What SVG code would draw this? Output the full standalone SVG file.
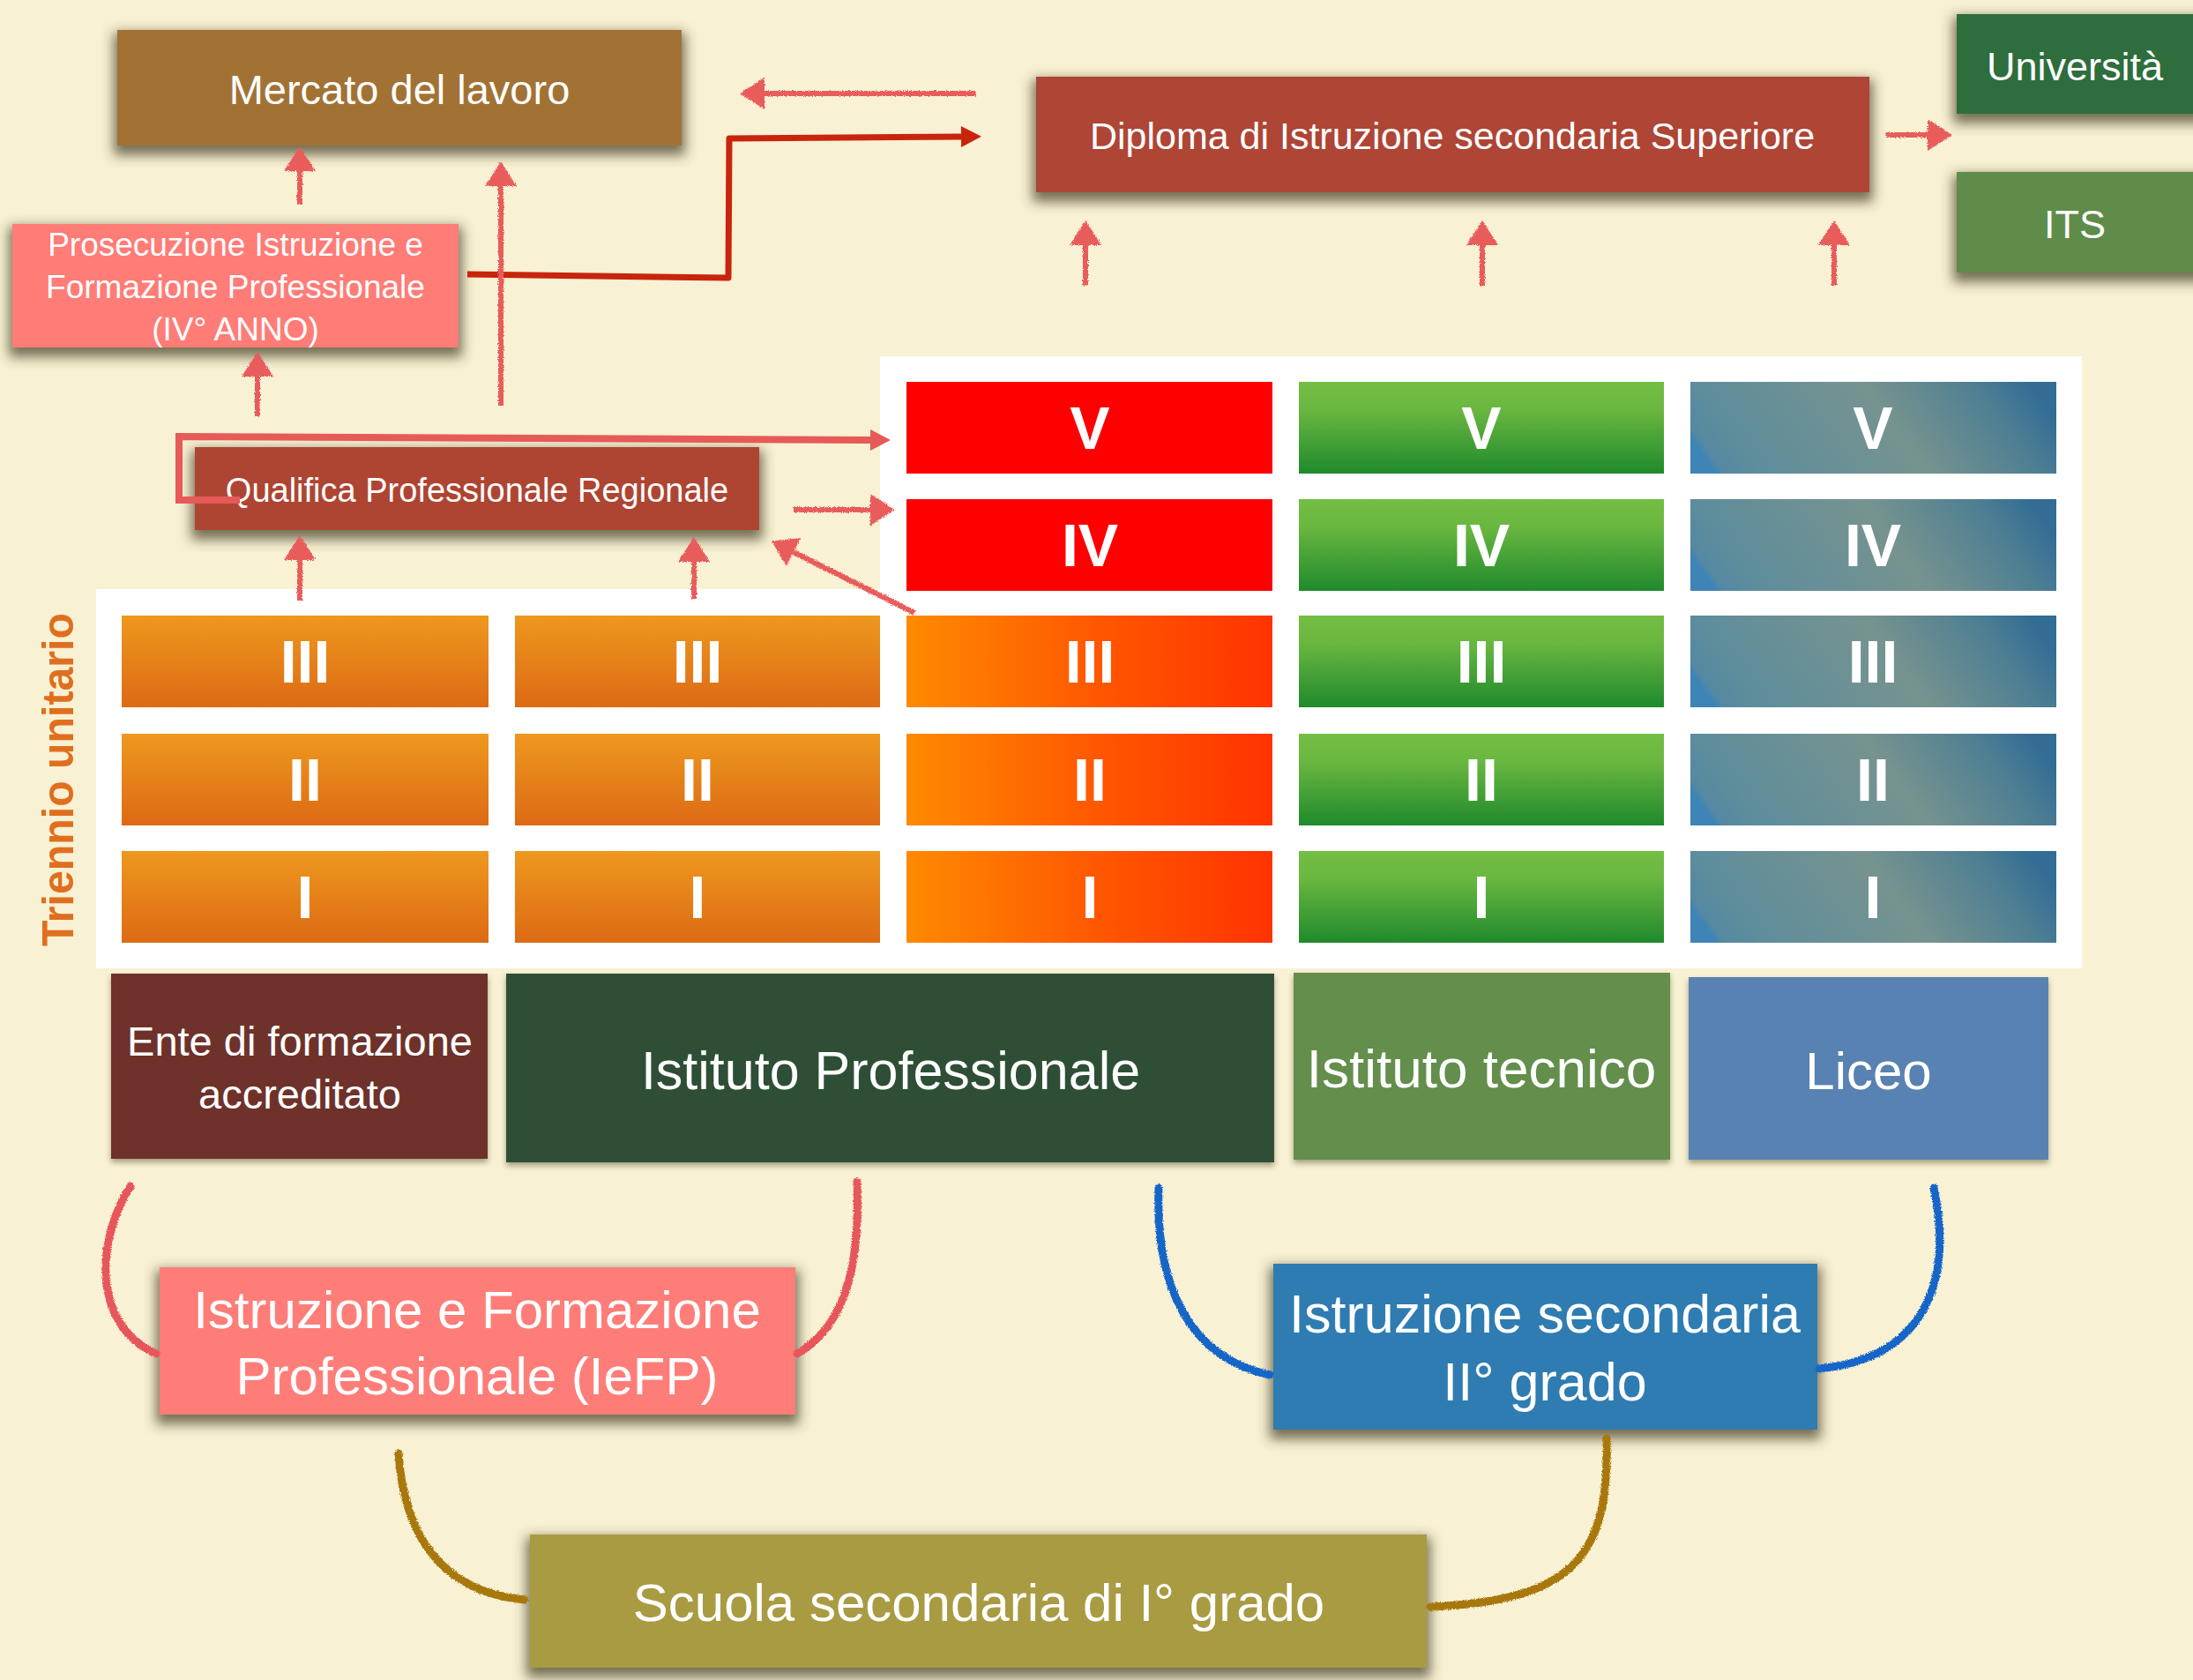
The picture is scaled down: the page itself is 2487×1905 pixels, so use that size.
<svg xmlns="http://www.w3.org/2000/svg" width="2487" height="1905" viewBox="0 0 2487 1905">
<defs>
<style>
.lbl{font-family:"Liberation Sans",Arial,sans-serif;fill:#ffffff;text-anchor:middle}
.num{font-family:"Liberation Sans",Arial,sans-serif;font-weight:bold;fill:#ffffff;text-anchor:middle;font-size:68px}
.pk{stroke:#E95B5B;fill:none;stroke-width:6}
.cur{fill:none;stroke-width:9;stroke-linecap:round}
</style>
<linearGradient id="gOr" x1="0" y1="0" x2="0" y2="1"><stop offset="0" stop-color="#EE981E"/><stop offset="1" stop-color="#DD6A14"/></linearGradient>
<linearGradient id="gRo" x1="0" y1="0" x2="1" y2="0"><stop offset="0" stop-color="#FF8A00"/><stop offset="0.55" stop-color="#FF5500"/><stop offset="1" stop-color="#FF3300"/></linearGradient>
<linearGradient id="gGr" x1="0" y1="0" x2="0" y2="1"><stop offset="0" stop-color="#73BE43"/><stop offset="0.3" stop-color="#6AB740"/><stop offset="1" stop-color="#1F8A2C"/></linearGradient>
<linearGradient id="gBl" x1="0" y1="0.6" x2="1" y2="0.42"><stop offset="0" stop-color="#3F84B6"/><stop offset="0.02" stop-color="#5589A2"/><stop offset="0.12" stop-color="#5E8D9C"/><stop offset="0.56" stop-color="#76938F"/><stop offset="0.85" stop-color="#4F7F93"/><stop offset="1" stop-color="#336D95"/></linearGradient>
<filter id="sh" x="-10%" y="-30%" width="120%" height="170%">
<feMorphology in="SourceAlpha" operator="dilate" radius="4" result="d"/>
<feGaussianBlur in="d" stdDeviation="7"/>
<feOffset dy="7" result="b"/>
<feFlood flood-color="#3E3820" flood-opacity="0.7"/>
<feComposite in2="b" operator="in"/>
<feMerge><feMergeNode/><feMergeNode in="SourceGraphic"/></feMerge>
</filter>
<filter id="shs" x="-5%" y="-10%" width="110%" height="125%">
<feGaussianBlur in="SourceAlpha" stdDeviation="3"/>
<feOffset dy="4" result="b"/>
<feFlood flood-color="#3E3820" flood-opacity="0.45"/>
<feComposite in2="b" operator="in"/>
<feMerge><feMergeNode/><feMergeNode in="SourceGraphic"/></feMerge>
</filter>
<filter id="rough" filterUnits="userSpaceOnUse" x="0" y="0" width="2487" height="1905">
<feTurbulence type="fractalNoise" baseFrequency="0.9" numOctaves="2" seed="4" result="n"/>
<feDisplacementMap in="SourceGraphic" in2="n" scale="4" xChannelSelector="R" yChannelSelector="G"/>
</filter>
<marker id="hp" markerUnits="userSpaceOnUse" viewBox="0 -20 30 40" markerWidth="30" markerHeight="40" refX="0" refY="0" orient="auto" overflow="visible"><path d="M0,-18 L28,0 L0,18 z" fill="#E95B5B"/></marker>
<marker id="hr" markerUnits="userSpaceOnUse" viewBox="0 -13 25 26" markerWidth="25" markerHeight="26" refX="0" refY="0" orient="auto" overflow="visible"><path d="M0,-12 L23,0 L0,12 z" fill="#C8250C"/></marker>
<marker id="hs" markerUnits="userSpaceOnUse" viewBox="0 -13 25 26" markerWidth="25" markerHeight="26" refX="0" refY="0" orient="auto" overflow="visible"><path d="M0,-12 L23,0 L0,12 z" fill="#E65A58"/></marker>
</defs>

<rect x="0" y="0" width="2487" height="1905" fill="#F8F1D3"/>

<!-- white panel behind grid -->
<rect x="998" y="404" width="1363" height="265" fill="#FFFFFF"/>
<rect x="109" y="668" width="2252" height="430" fill="#FFFFFF"/>

<g id="triennio">
<text transform="translate(83,884) rotate(-90)" font-family="Liberation Sans, Arial, sans-serif" font-weight="bold" font-size="50" fill="#DF6F1F" text-anchor="middle" textLength="378" lengthAdjust="spacingAndGlyphs">Triennio unitario</text>
</g>

<!-- grid cells -->
<g id="c1-III"><rect x="138" y="698" width="416" height="104" fill="url(#gOr)"/><text class="num" x="346" y="774">III</text></g>
<g id="c1-II"><rect x="138" y="832" width="416" height="104" fill="url(#gOr)"/><text class="num" x="346" y="908">II</text></g>
<g id="c1-I"><rect x="138" y="965" width="416" height="104" fill="url(#gOr)"/><text class="num" x="346" y="1041">I</text></g>
<g id="c2-III"><rect x="584" y="698" width="414" height="104" fill="url(#gOr)"/><text class="num" x="791" y="774">III</text></g>
<g id="c2-II"><rect x="584" y="832" width="414" height="104" fill="url(#gOr)"/><text class="num" x="791" y="908">II</text></g>
<g id="c2-I"><rect x="584" y="965" width="414" height="104" fill="url(#gOr)"/><text class="num" x="791" y="1041">I</text></g>
<g id="c3-V"><rect x="1028" y="433" width="415" height="104" fill="#FF0000"/><text class="num" x="1236" y="509">V</text></g>
<g id="c3-IV"><rect x="1028" y="566" width="415" height="104" fill="#FF0000"/><text class="num" x="1236" y="642">IV</text></g>
<g id="c3-III"><rect x="1028" y="698" width="415" height="104" fill="url(#gRo)"/><text class="num" x="1236" y="774">III</text></g>
<g id="c3-II"><rect x="1028" y="832" width="415" height="104" fill="url(#gRo)"/><text class="num" x="1236" y="908">II</text></g>
<g id="c3-I"><rect x="1028" y="965" width="415" height="104" fill="url(#gRo)"/><text class="num" x="1236" y="1041">I</text></g>
<g id="c4-V"><rect x="1473" y="433" width="414" height="104" fill="url(#gGr)"/><text class="num" x="1680" y="509">V</text></g>
<g id="c4-IV"><rect x="1473" y="566" width="414" height="104" fill="url(#gGr)"/><text class="num" x="1680" y="642">IV</text></g>
<g id="c4-III"><rect x="1473" y="698" width="414" height="104" fill="url(#gGr)"/><text class="num" x="1680" y="774">III</text></g>
<g id="c4-II"><rect x="1473" y="832" width="414" height="104" fill="url(#gGr)"/><text class="num" x="1680" y="908">II</text></g>
<g id="c4-I"><rect x="1473" y="965" width="414" height="104" fill="url(#gGr)"/><text class="num" x="1680" y="1041">I</text></g>
<g id="c5-V"><rect x="1917" y="433" width="415" height="104" fill="url(#gBl)"/><text class="num" x="2124" y="509">V</text></g>
<g id="c5-IV"><rect x="1917" y="566" width="415" height="104" fill="url(#gBl)"/><text class="num" x="2124" y="642">IV</text></g>
<g id="c5-III"><rect x="1917" y="698" width="415" height="104" fill="url(#gBl)"/><text class="num" x="2124" y="774">III</text></g>
<g id="c5-II"><rect x="1917" y="832" width="415" height="104" fill="url(#gBl)"/><text class="num" x="2124" y="908">II</text></g>
<g id="c5-I"><rect x="1917" y="965" width="415" height="104" fill="url(#gBl)"/><text class="num" x="2124" y="1041">I</text></g>

<!-- top nodes -->
<g id="mercato"><rect x="133" y="34" width="640" height="131" fill="#A27235" filter="url(#sh)"/><text class="lbl" x="453" y="118" font-size="47">Mercato del lavoro</text></g>
<g id="prosecuzione"><rect x="14" y="254" width="506" height="140" fill="#FF7C77" filter="url(#sh)"/><text class="lbl" x="267" y="290" font-size="37">Prosecuzione Istruzione e</text><text class="lbl" x="267" y="338" font-size="37">Formazione Professionale</text><text class="lbl" x="267" y="386" font-size="37">(IV° ANNO)</text></g>
<g id="qualifica"><rect x="221" y="507" width="640" height="94" fill="#AE4433" filter="url(#sh)"/><text class="lbl" x="541" y="569" font-size="38">Qualifica Professionale Regionale</text></g>
<g id="diploma"><rect x="1175" y="87" width="945" height="131" fill="#AE4434" filter="url(#sh)"/><text class="lbl" x="1647" y="169" font-size="43">Diploma di Istruzione secondaria Superiore</text></g>
<g id="universita"><rect x="2219" y="16" width="290" height="113" fill="#2D6E3E" filter="url(#sh)"/><text class="lbl" x="2353" y="91" font-size="45">Università</text></g>
<g id="its"><rect x="2219" y="195" width="290" height="114" fill="#5F8C4A" filter="url(#sh)"/><text class="lbl" x="2353" y="270" font-size="45">ITS</text></g>

<!-- institution nodes -->
<g id="ente"><rect x="126" y="1104" width="427" height="210" fill="#6E302C" filter="url(#shs)"/><text class="lbl" x="340" y="1197" font-size="47">Ente di formazione</text><text class="lbl" x="340" y="1257" font-size="47">accreditato</text></g>
<g id="istprof"><rect x="574" y="1104" width="871" height="214" fill="#2F5034" filter="url(#shs)"/><text class="lbl" x="1010" y="1235" font-size="61">Istituto Professionale</text></g>
<g id="isttec"><rect x="1467" y="1103" width="427" height="212" fill="#638E4C" filter="url(#shs)"/><text class="lbl" x="1680" y="1233" font-size="62">Istituto tecnico</text></g>
<g id="liceo"><rect x="1915" y="1108" width="408" height="207" fill="#5882B2" filter="url(#shs)"/><text class="lbl" x="2119" y="1235" font-size="60">Liceo</text></g>

<!-- lower nodes -->
<g id="iefp"><rect x="181" y="1437" width="721" height="167" fill="#FF7D78" filter="url(#sh)"/><text class="lbl" x="541" y="1506" font-size="60">Istruzione e Formazione</text><text class="lbl" x="541" y="1581" font-size="60">Professionale (IeFP)</text></g>
<g id="istsec"><rect x="1444" y="1433" width="617" height="188" fill="#2F7BB2" filter="url(#sh)"/><text class="lbl" x="1752" y="1511" font-size="61">Istruzione secondaria</text><text class="lbl" x="1752" y="1588" font-size="61">II° grado</text></g>
<g id="scuola"><rect x="601" y="1740" width="1017" height="151" fill="#A99B42" filter="url(#sh)"/><text class="lbl" x="1110" y="1838" font-size="60">Scuola secondaria di I° grado</text></g>

<!-- connectors -->
<g id="connectors">
<path d="M530,311 L826,315 L827,157 L1090,155" fill="none" stroke="#C8250C" stroke-width="7" stroke-linejoin="round" marker-end="url(#hr)"/>
<path d="M272,567 L203,567 L203,495 L987,499" fill="none" stroke="#E65A58" stroke-width="8" stroke-linejoin="miter" marker-end="url(#hs)"/>
<g filter="url(#rough)">
<path class="pk" d="M1107,106 L867,106" marker-end="url(#hp)"/>
<path class="pk" d="M340,232 L340,194" marker-end="url(#hp)"/>
<path class="pk" d="M568,460 L568,211" marker-end="url(#hp)"/>
<path class="pk" d="M292,472 L292,427" marker-end="url(#hp)"/>
<path class="pk" d="M340,681 L340,635" marker-end="url(#hp)"/>
<path class="pk" d="M787,679 L787,637" marker-end="url(#hp)"/>
<path class="pk" d="M1231,324 L1231,278" marker-end="url(#hp)"/>
<path class="pk" d="M1681,324 L1681,278" marker-end="url(#hp)"/>
<path class="pk" d="M2080,324 L2080,278" marker-end="url(#hp)"/>
<path class="pk" d="M2139,153 L2186,153" stroke-width="9" marker-end="url(#hp)"/>
<path class="pk" d="M900,578 L987,578" marker-end="url(#hp)"/>
<path class="pk" d="M1037,695 L900,626" marker-end="url(#hp)"/>
<path class="cur" stroke="#E6575A" d="M148,1345 C112,1400 100,1500 177,1535"/>
<path class="cur" stroke="#E6575A" d="M972,1340 C975,1420 965,1500 904,1535"/>
<path class="cur" stroke="#1565C8" d="M1314,1347 C1310,1460 1350,1540 1440,1559"/>
<path class="cur" stroke="#1565C8" d="M2193,1347 C2215,1450 2185,1540 2063,1552"/>
<path class="cur" stroke="#A8780E" d="M452,1648 C458,1740 500,1805 595,1814"/>
<path class="cur" stroke="#A8780E" d="M1822,1631 C1825,1760 1790,1815 1622,1822"/>
</g>
</g>
</svg>
